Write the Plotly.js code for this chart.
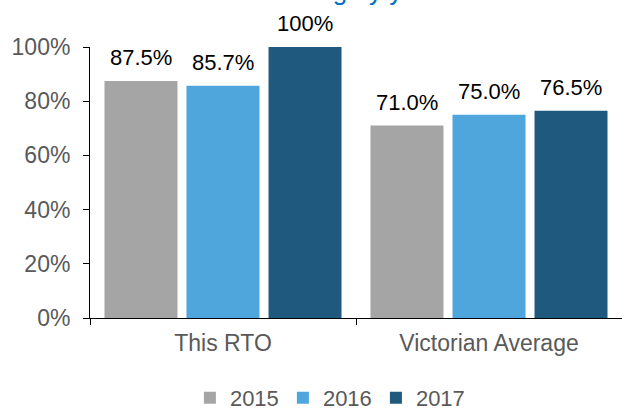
<!DOCTYPE html>
<html><head><meta charset="utf-8">
<script src="https://cdn.plot.ly/plotly-3.0.1.min.js"></script>
<style>html,body{margin:0;padding:0;background:#fff;}#chart{width:622px;height:412px;}</style>
</head><body><div id="chart"></div>
<script>
const categories = ["This RTO", "Victorian Average"];
const years = ["2015", "2016", "2017"];
const values2015 = [87.5, 71.0];
const values2016 = [85.7, 75.0];
const values2017 = [100, 76.5];
const labels2015 = ["87.5%", "71.0%"];
const labels2016 = ["85.7%", "75.0%"];
const labels2017 = ["100%", "76.5%"];
const colors = ["#a5a5a5", "#4ea6dc", "#1f5a7e"];
const yTickVals = [0, 20, 40, 60, 80, 100];
const yTickText = ["0%", "20%", "40%", "60%", "80%", "100%"];

const FONT = "Liberation Sans, Arial, sans-serif";
const W = 622, H = 412;
const margin = {l: 90, r: 0, t: 47, b: 94, autoexpand: false};
const bargap = 0.075, bargroupgap = 0.11;
const plotW = W - margin.l - margin.r;
const slot = plotW / categories.length * (1 - bargap) / years.length;

const series = [values2015, values2016, values2017];
const labels = [labels2015, labels2016, labels2017];
const traces = years.map((yr, i) => ({
  type: "bar", name: yr, x: categories, y: series[i],
  marker: {color: colors[i]}, hoverinfo: "skip"
}));

const annotations = [];
years.forEach((yr, i) => {
  categories.forEach((c, j) => {
    annotations.push({
      xref: "x", yref: "y", x: c, y: series[i][j], text: labels[i][j],
      xshift: (i - (years.length - 1) / 2) * slot, yshift: 9,
      yanchor: "bottom", showarrow: false,
      font: {family: FONT, size: 22, color: "#000"}
    });
  });
});

const layout = {
  width: W, height: H, margin: margin,
  paper_bgcolor: "#fff", plot_bgcolor: "#fff",
  font: {family: FONT, color: "#595959", size: 23},
  title: {text: "Satisfaction rating by year", x: 0.226, xanchor: "left", xref: "container",
          y: 1, yanchor: "bottom", yref: "container",
          font: {size: 26, color: "#0070c0", family: FONT}},
  barmode: "group", bargap: bargap, bargroupgap: bargroupgap,
  showlegend: true,
  legend: {orientation: "h", x: 0.45, xanchor: "center", y: -0.295, yanchor: "middle",
           font: {size: 22, color: "#595959"}, itemwidth: 30, entrywidth: 48, entrywidthmode: "pixels",
           traceorder: "normal", valign: "middle"},
  annotations: annotations,
  xaxis: {showline: true, linecolor: "#000", linewidth: 1, ticks: "outside", tickson: "boundaries",
          ticklen: 6, tickcolor: "#000", showgrid: false, ticklabelstandoff: 4, automargin: false,
          tickfont: {size: 23, color: "#595959"}},
  yaxis: {range: [0, 100], tickvals: yTickVals, ticktext: yTickText, showline: true, linecolor: "#000",
          ticks: "outside", ticklen: 6, tickcolor: "#000", showgrid: false, zeroline: false, automargin: false,
          ticklabelstandoff: 8, tickfont: {size: 23, color: "#595959"}}
};
Plotly.newPlot("chart", traces, layout, {displayModeBar: false, staticPlot: true});
</script></body></html>
